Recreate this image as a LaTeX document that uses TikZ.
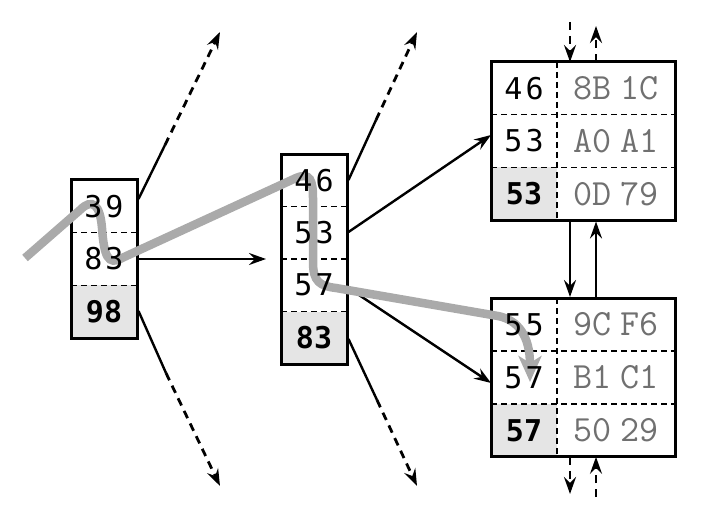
\documentclass[tikz,border=0pt]{standalone}
\usepackage{fontspec}
\newfontfamily\keyfont{DejaVu Sans Mono}
\usetikzlibrary{arrows.meta}
\definecolor{cellgray}{HTML}{E5E5E5}
\definecolor{pathgray}{HTML}{AAAAAA}
\definecolor{hexgray}{HTML}{707070}
\newcommand{\hexpair}[2]{#1\hspace{8pt}#2}
\newcommand{\kp}[2]{#1\hspace{3pt}#2}
\tikzset{
  cellA/.style={minimum width=66pt,minimum height=52.7pt,inner sep=0pt,outer sep=0pt},
  cellB/.style={minimum width=66pt,minimum height=52.5pt,inner sep=0pt,outer sep=0pt},
  hexcell/.style={minimum width=118pt,minimum height=52.7pt,inner sep=0pt,outer sep=0pt},
  shade/.style={fill=cellgray},
  keytxt/.style={inner sep=0pt,font=\keyfont\fontsize{30}{30}\selectfont},
  boldtxt/.style={inner sep=0pt,font=\keyfont\bfseries\fontsize{30}{30}\selectfont},
  hextxt/.style={inner sep=0pt,text=hexgray,font=\ttfamily\fontsize{37}{37}\selectfont},
  border/.style={line width=3pt},
  sep/.style={line width=1.4pt,dash pattern=on 6pt off 4pt},
  vsep/.style={line width=2.6pt,dash pattern=on 6pt off 4pt},
  conn/.style={line width=2.4pt},
  tip/.style={-{Stealth[length=17pt,width=12pt,inset=6pt]}},
  dconn/.style={line width=2.8pt,dash pattern=on 8pt off 6pt},
  trail/.style={line width=8.5pt,pathgray,line cap=butt,-{Stealth[length=26pt,width=23pt,inset=7pt]}}
}
\begin{document}
\begin{tikzpicture}[x=1pt,y=-1pt]
\useasboundingbox (0,0) rectangle (701,519);
% ---- cells box 1
\node[cellA] (a1) at (104,206.3) {};
\node[cellA] (a2) at (104,259) {};
\node[cellA,shade] (a3) at (104,311.7) {};
% ---- cells box 2
\node[cellB] (b1) at (314,180.25) {};
\node[cellB] (b2) at (314,232.75) {};
\node[cellB] (b3) at (314,285.25) {};
\node[cellB,shade] (b4) at (314,337.75) {};
% ---- cells box 3
\node[cellA] (c1) at (524,88.3) {};
\node[cellA] (c2) at (524,141) {};
\node[cellA,shade] (c3) at (524,193.7) {};
\node[hexcell] (h1) at (616,88.3) {};
\node[hexcell] (h2) at (616,141) {};
\node[hexcell] (h3) at (616,193.7) {};
% ---- cells box 4
\node[cellA] (d1) at (524,324.5) {};
\node[cellA] (d2) at (524,377.5) {};
\node[cellA,shade] (d3) at (524,430.5) {};
\node[hexcell] (g1) at (616,324.5) {};
\node[hexcell] (g2) at (616,377.5) {};
\node[hexcell] (g3) at (616,430.5) {};
% ---- separators
\draw[sep] (a1.south west) -- (a1.south east);
\draw[sep] (a2.south west) -- (a2.south east);
\draw[sep] (b1.south west) -- (b1.south east);
\draw[sep] (b2.south west) -- (b2.south east);
\draw[sep] (b3.south west) -- (b3.south east);
\draw[sep] (c1.south west) -- (h1.south east);
\draw[sep] (c2.south west) -- (h2.south east);
\draw[vsep] (c1.north east) -- (c3.south east);
\draw[sep] (d1.south west) -- (g1.south east);
\draw[sep] (d2.south west) -- (g2.south east);
\draw[vsep] (d1.north east) -- (d3.south east);
% ---- outlines
\draw[border] (a1.north west) rectangle (a3.south east);
\draw[border] (b1.north west) rectangle (b4.south east);
\draw[border] (c1.north west) rectangle (h3.south east);
\draw[border] (d1.north west) rectangle (g3.south east);
% ---- connector coordinates
\coordinate (p1m) at (165,145);  \coordinate (p1t) at (220,32);
\coordinate (p2t) at (266,259);
\coordinate (p3m) at (166,373);  \coordinate (p3t) at (220,486);
\coordinate (q1m) at (376,120);  \coordinate (q1t) at (417,32);
\coordinate (q4m) at (377,400);  \coordinate (q4t) at (417,486);
\coordinate (t1) at (570,22);    \coordinate (t2) at (596,26);
\coordinate (u1) at (570,494);   \coordinate (u2) at (596,497);
% ---- box 1 connectors
\draw[conn] (138.5,199) -- (p1m);
\draw[dconn,tip] (p1m) -- (p1t);
\draw[conn,tip] (a2.east) -- (p2t);
\draw[conn] (138.5,311) -- (p3m);
\draw[dconn,tip] (p3m) -- (p3t);
% ---- box 2 connectors
\draw[conn] (348.5,180) -- (q1m);
\draw[dconn,tip] (q1m) -- (q1t);
\draw[conn,tip] (348.5,232) -- (c2.west |- 0,135) ;
\draw[conn,tip] (348.5,288) -- (d2.west |- 0,383);
\draw[conn] (348.5,339) -- (q4m);
\draw[dconn,tip] (q4m) -- (q4t);
% ---- box 3/4 connectors
\draw[dconn,tip] (t1) -- (t1 |- c1.north);
\draw[dconn,tip] (t2 |- c1.north) -- (t2);
\draw[conn,tip] (570,221.5) -- (570,297);
\draw[conn,tip] (596,297) -- (596,221.5);
\draw[dconn,tip] (u1 |- d3.south) -- (u1);
\draw[dconn,tip] (u2) -- (u2 |- d3.south);
% ---- search trail
\draw[trail] (25,258) -- (80,210) .. controls (92,198) and (100,204) .. (102,228)
  .. controls (104,256) and (108,266) .. (122,258) -- (296,178)
  .. controls (310,172) and (313,180) .. (313,198) -- (313,262)
  .. controls (313,282) and (320,286) .. (336,288) -- (498,316)
  .. controls (518,320) and (530,336) .. (530,382);
% ---- texts
\node[keytxt] (ta1) at (a1) {\kp{3}{9}};
\node[keytxt] (ta2) at (a2) {\kp{8}{3}};
\node[boldtxt] (ta3) at (a3) {98};
\node[keytxt] (tb1) at (b1) {\kp{4}{6}};
\node[keytxt] (tb2) at (b2) {\kp{5}{3}};
\node[keytxt] (tb3) at (b3) {\kp{5}{7}};
\node[boldtxt] (tb4) at (b4) {83};
\node[keytxt] (tc1) at (c1) {\kp{4}{6}};
\node[keytxt] (tc2) at (c2) {\kp{5}{3}};
\node[boldtxt] (tc3) at (c3) {53};
\node[hextxt] (th1) at (h1) {\hexpair{8B}{1C}};
\node[hextxt] (th2) at (h2) {\hexpair{A0}{A1}};
\node[hextxt] (th3) at (h3) {\hexpair{0D}{79}};
\node[keytxt] (td1) at (d1) {\kp{5}{5}};
\node[keytxt] (td2) at (d2) {\kp{5}{7}};
\node[boldtxt] (td3) at (d3) {57};
\node[hextxt] (tg1) at (g1) {\hexpair{9C}{F6}};
\node[hextxt] (tg2) at (g2) {\hexpair{B1}{C1}};
\node[hextxt] (tg3) at (g3) {\hexpair{50}{29}};
\end{tikzpicture}
\end{document}
